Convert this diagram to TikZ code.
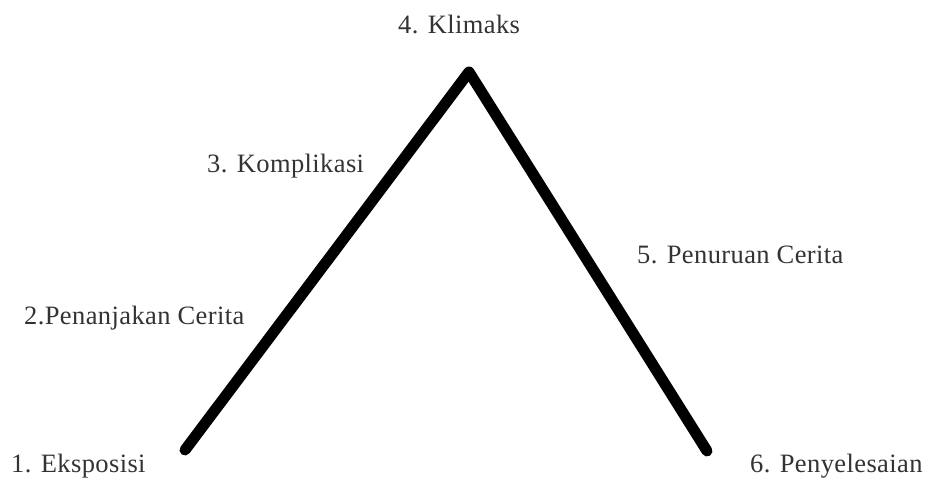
\documentclass[tikz,border=0pt]{standalone}
\usepackage{fontspec}
\setmainfont{Liberation Serif}[LetterSpace=1.5]
\definecolor{txt}{HTML}{333333}
\begin{document}
\begin{tikzpicture}[x=1pt,y=-1pt,
  lbl/.style={anchor=base west,inner sep=0pt,text=txt,font=\fontsize{26.5}{30}\selectfont},
  arc/.style={line width=11pt,line cap=round,line join=round,black}]
\useasboundingbox (0,0) rectangle (927,478);
\coordinate (p1) at (185,450);
\coordinate (p4) at (469,72);
\coordinate (p6) at (707,451);
\draw[arc] (p1) -- (p4) -- (p6);
\node[lbl] (l4) at (398,34) {4. Klimaks};
\node[lbl] (l3) at (207,173) {3. Komplikasi};
\node[lbl] (l2) at (24,325) {2.Penanjakan Cerita};
\node[lbl] (l1) at (11,472) {1. Eksposisi};
\node[lbl] (l5) at (637,264) {5. Penuruan Cerita};
\node[lbl] (l6) at (750,472) {6. Penyelesaian};
\end{tikzpicture}
\end{document}
